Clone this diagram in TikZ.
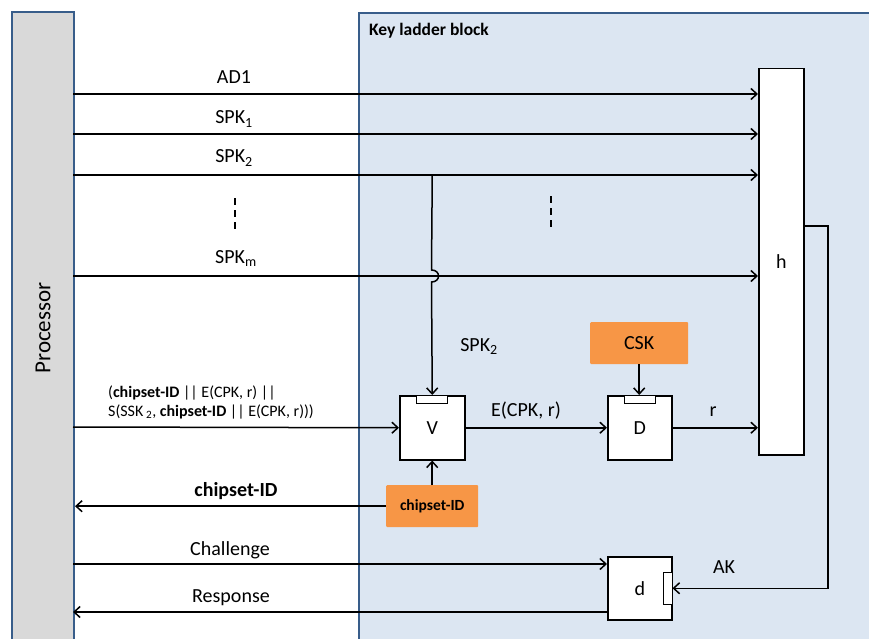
\documentclass[tikz,border=0pt]{standalone}
\usepackage{fontspec}
\setmainfont{Carlito}
\usetikzlibrary{arrows.meta,positioning}
\definecolor{procgray}{HTML}{D9D9D9}
\definecolor{frameblue}{HTML}{385D8A}
\definecolor{ladderfill}{HTML}{DCE6F2}
\definecolor{keyorange}{HTML}{F79646}

\begin{document}
\begin{tikzpicture}[
    x=1pt,
    y=-1pt,
    arrow/.style={-{Straight Barb[length=6pt,width=11pt]}, line width=1.5pt},
    link/.style={line width=1.5pt},
    frame/.style={draw=frameblue, line width=2pt, inner sep=0pt, anchor=north west},
    unit/.style={draw, fill=white, line width=1.5pt, inner sep=0pt, anchor=north west, font=\fontsize{20}{22}\selectfont},
    keybox/.style={fill=keyorange, rounded corners=1pt, inner sep=0pt, anchor=north west},
    slot/.style={draw, fill=white, line width=0.8pt, inner sep=0pt},
    lbl/.style={font=\fontsize{20}{22}\selectfont, inner sep=0pt, anchor=base}
  ]
    \useasboundingbox (0,0) rectangle (869,639);
    \fill[white] (0,0) rectangle (869,639);

    % the two blocks
    \node[frame, fill=procgray, minimum width=62pt, minimum height=640pt] (proc) at (11,11) {};
    \node[frame, fill=ladderfill, minimum width=530pt, minimum height=640pt] (ladder) at (358,12) {};
    \node[rotate=90, inner sep=0pt, font=\fontsize{23}{25}\selectfont] (procname) at (43,328) {Processor};
    \node[anchor=base west, inner sep=0pt, font=\fontsize{17.5}{19}\selectfont\bfseries] (laddername) at (369,36) {Key ladder block};

    % function units
    \node[unit, minimum width=45pt, minimum height=386pt] (h) at (758,68) {h};
    \node[unit, minimum width=65pt, minimum height=64pt] (V) at (399,395) {V};
    \node[unit, minimum width=64pt, minimum height=64pt] (D) at (607,395) {D};
    \node[unit, minimum width=64pt, minimum height=63pt] (d) at (607,556) {d};
    \node[slot, anchor=north, minimum width=31pt, minimum height=8pt] (Vslot) at (V.north) {};
    \node[slot, anchor=north, minimum width=31pt, minimum height=8pt] (Dslot) at (D.north) {};
    \node[slot, anchor=east, minimum width=9pt, minimum height=32pt] (dslot) at (d.east) {};

    % keys
    \node[keybox, minimum width=98pt, minimum height=42pt, font=\fontsize{20}{22}\selectfont] (CSK) at (590,322) {CSK};
    \node[keybox, minimum width=92pt, minimum height=42pt, font=\fontsize{15.5}{17}\selectfont\bfseries] (chip) at (386,485) {chipset-ID};

    % inputs to h
    \foreach \nm/\yy in {AD/94, SPKa/134, SPKb/175, SPKm/276} {
      \coordinate (p\nm) at (73,\yy);
      \draw[arrow] (p\nm) -- (p\nm -| h.west);
    }
    \node[lbl] (tAD) at (234,84) {AD1};
    \node[lbl] (tSPKa) at (234,124) {SPK\textsubscript{1}};
    \node[lbl] (tSPKb) at (234,163) {SPK\textsubscript{2}};
    \node[lbl] (tSPKm) at (236,263) {SPK\textsubscript{m}};
    \draw[link, dash pattern=on 7pt off 5pt] (235,198) -- (235,232);
    \draw[link, dash pattern=on 7pt off 5pt] (551,196) -- (551,230);

    % SPK2 branch into V, jumping over SPKm
    \coordinate (jumpA) at (431.5,270);
    \coordinate (jumpB) at (431.5,282);
    \draw[arrow] (V.north |- pSPKb) -- (jumpA) to[out=0, in=0, looseness=2] (jumpB) -- (V.north);
    \node[lbl] (tSPKv) at (479,351) {SPK\textsubscript{2}};

    % signed package into V
    \coordinate (pIn) at (73,427);
    \draw[arrow] (pIn) -- (V.west);
    \node[anchor=base west, inner sep=0pt, font=\fontsize{16}{19}\selectfont] (tInA) at (108,397)
      {(\textbf{chipset-ID} || E(CPK, r) ||};
    \node[anchor=base west, inner sep=0pt, font=\fontsize{16}{19}\selectfont] (tInB) at (108,416)
      {S(SSK\,\textsubscript{2}, \textbf{chipset-ID} || E(CPK, r)))};

    \draw[arrow] (V.east) -- (D.west);
    \node[lbl] (tE) at (526,416) {E(CPK, r)};
    \draw[arrow] (CSK.south) -- (CSK.south |- D.north);
    \draw[arrow] (D.east) -- (D.east -| h.west);
    \node[lbl] (tr) at (713,416) {r};

    % chipset-ID back to processor
    \draw[arrow] (chip.north) -- (chip.north |- V.south);
    \draw[arrow] (chip.west) -- (chip.west -| proc.east);
    \node[lbl, font=\fontsize{20}{22}\selectfont\bfseries] (tchip) at (236,496) {chipset-ID};

    % challenge / response
    \coordinate (pCh) at (73,564);
    \coordinate (pResp) at (73,612);
    \draw[arrow] (pCh) -- (pCh -| d.west);
    \draw[arrow] (pResp -| d.west) -- (pResp);
    \node[lbl] (tCh) at (230,555) {Challenge};
    \node[lbl] (tResp) at (231,602) {Response};

    % AK from h to d
    \coordinate (akTurn) at (828,226);
    \draw[arrow] (h.east |- akTurn) -- (akTurn) |- (d.east);
    \node[lbl] (tAK) at (724,573) {AK};
\end{tikzpicture}
\end{document}
